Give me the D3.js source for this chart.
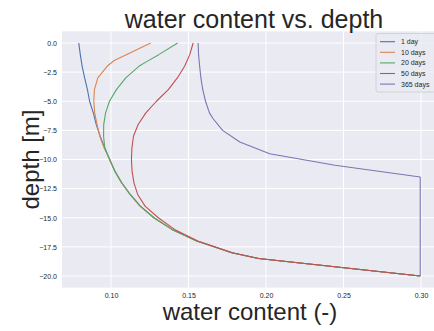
<!DOCTYPE html>
<html>
<head>
<meta charset="utf-8">
<script src="https://cdn.jsdelivr.net/npm/d3@7/dist/d3.min.js"></script>
<style>
  html, body { margin: 0; padding: 0; background: #fff; }
  svg { display: block; font-family: "Liberation Sans", Arial, sans-serif; }
</style>
</head>
<body>
<svg id="chart" width="434" height="331"></svg>
<script>
// Soil water content profiles at several times after the start
const seriesNames = ["1 day", "10 days", "20 days", "50 days", "365 days"];
const seriesColors = ["#4C72B0", "#DD8452", "#55A868", "#C44E52", "#8172B3"];

const depth1 = [0, -1, -2, -3, -4, -5, -6, -7, -8, -9, -10, -11, -12, -13, -14, -15, -16, -17, -18, -18.5, -20];
const theta1 = [0.0792, 0.0802, 0.0814, 0.0830, 0.0848, 0.0862, 0.0886, 0.0905, 0.0930, 0.0960, 0.0992, 0.1025, 0.1068, 0.1123, 0.1188, 0.1276, 0.1393, 0.1553, 0.1778, 0.1950, 0.2995];

const depth10 = [0, -1.5, -2, -3, -4, -5, -6, -7, -8, -9, -10, -11, -12, -13, -14, -15, -16, -17, -18, -18.5, -20];
const theta10 = [0.1256, 0.1021, 0.0975, 0.0915, 0.0893, 0.0889, 0.0895, 0.0910, 0.0928, 0.0955, 0.0992, 0.1025, 0.1068, 0.1123, 0.1188, 0.1276, 0.1393, 0.1553, 0.1778, 0.1950, 0.2995];

const depth20 = [0, -1, -1.6, -2, -3, -4, -5, -6, -7, -8, -9, -10, -11, -12, -13, -14, -15, -16, -17, -18, -18.5, -20];
const theta20 = [0.1430, 0.1308, 0.1230, 0.1180, 0.1095, 0.1035, 0.0990, 0.0965, 0.0953, 0.0952, 0.0960, 0.0990, 0.1025, 0.1070, 0.1125, 0.1190, 0.1278, 0.1395, 0.1555, 0.1780, 0.1952, 0.2995];

const depth50 = [0, -1, -2, -3, -4, -5, -6, -7, -8, -9, -10, -11, -12, -13, -14, -15, -16, -17, -18, -18.5, -20];
const theta50 = [0.1530, 0.1508, 0.1475, 0.1428, 0.1370, 0.1293, 0.1225, 0.1175, 0.1145, 0.1135, 0.1132, 0.1136, 0.1148, 0.1172, 0.1220, 0.1305, 0.1410, 0.1560, 0.1785, 0.1955, 0.2995];

const depth365 = [0, -1, -2, -3, -4, -5, -6, -6.5, -7.5, -8.5, -9.5, -10.5, -11.5, -20];
const theta365 = [0.1562, 0.1565, 0.1572, 0.1580, 0.1592, 0.1610, 0.1635, 0.1659, 0.1720, 0.1831, 0.2024, 0.2445, 0.2995, 0.2995];

const xTicks = [0.10, 0.15, 0.20, 0.25, 0.30];
const yTicks = [0, -2.5, -5, -7.5, -10, -12.5, -15, -17.5, -20];

const seriesDepths = [depth1, depth10, depth20, depth50, depth365];
const seriesTheta = [theta1, theta10, theta20, theta50, theta365];

const svg = d3.select("#chart");
const plot = { left: 62, right: 438, top: 31.35, bottom: 287.65 };

const x = d3.scaleLinear().domain([0.06839, 0.31097]).range([plot.left, plot.right]);
const y = d3.scaleLinear().domain([1, -21]).range([plot.top, plot.bottom]);

// panel background
svg.append("rect")
  .attr("x", plot.left).attr("y", plot.top)
  .attr("width", plot.right - plot.left).attr("height", plot.bottom - plot.top)
  .attr("fill", "#EAEAF2");

// grid lines
const grid = svg.append("g").attr("stroke", "#fff").attr("stroke-width", 1);
grid.selectAll("line.gx").data(xTicks).join("line")
  .attr("x1", d => x(d)).attr("x2", d => x(d))
  .attr("y1", plot.top).attr("y2", plot.bottom);
grid.selectAll("line.gy").data(yTicks).join("line")
  .attr("x1", plot.left).attr("x2", plot.right)
  .attr("y1", d => y(d)).attr("y2", d => y(d));

// axes (labels only, no spines or tick marks)
const fmt2 = d3.format(".2f");
const fmt1 = d => d3.format(".1f")(d).replace("-", "\u2212");
const xAxis = svg.append("g")
  .attr("transform", `translate(0,${plot.bottom})`)
  .call(d3.axisBottom(x).tickValues(xTicks).tickFormat(fmt2).tickSize(0).tickPadding(5));
const yAxis = svg.append("g")
  .attr("transform", `translate(${plot.left},0)`)
  .call(d3.axisLeft(y).tickValues(yTicks).tickFormat(fmt1).tickSize(0).tickPadding(5));
[xAxis, yAxis].forEach(a => {
  a.select(".domain").remove();
  a.selectAll("text")
    .attr("fill", "#262626")
    .style("font-family", "'Liberation Sans', Arial, sans-serif")
    .style("font-size", "7px");
});

// profile lines
const line = d3.line().x(d => x(d[1])).y(d => y(d[0]));
const defs = svg.append("defs");
defs.append("clipPath").attr("id", "panel").append("rect")
  .attr("x", plot.left).attr("y", plot.top)
  .attr("width", plot.right - plot.left).attr("height", plot.bottom - plot.top);
const lines = svg.append("g").attr("clip-path", "url(#panel)");
seriesNames.forEach((name, i) => {
  const pts = d3.zip(seriesDepths[i], seriesTheta[i]);
  lines.append("path")
    .datum(pts)
    .attr("d", line)
    .attr("fill", "none")
    .attr("stroke", seriesColors[i])
    .attr("stroke-width", 1.1)
    .attr("stroke-linejoin", "round");
});

// legend
const lg = svg.append("g");
lg.append("rect")
  .attr("x", 376).attr("y", 33.5).attr("width", 62).attr("height", 58.5)
  .attr("rx", 2)
  .attr("fill", "#EAEAF2").attr("fill-opacity", 0.8)
  .attr("stroke", "#CCCCCC").attr("stroke-width", 0.8);
seriesNames.forEach((name, i) => {
  const yy = 41.7 + i * 10.6;
  lg.append("line")
    .attr("x1", 380).attr("x2", 395).attr("y1", yy).attr("y2", yy)
    .attr("stroke", seriesColors[i]).attr("stroke-width", 1.1);
  lg.append("text")
    .attr("x", 401).attr("y", yy).attr("dy", "0.35em")
    .attr("fill", "#262626").style("font-size", "7px")
    .text(name);
});

// titles
svg.append("text")
  .attr("x", 254).attr("y", 28)
  .attr("text-anchor", "middle").attr("fill", "#262626")
  .style("font-size", "25px")
  .text("water content vs. depth");
svg.append("text")
  .attr("x", 250).attr("y", 320)
  .attr("text-anchor", "middle").attr("fill", "#262626")
  .style("font-size", "24px")
  .text("water content (-)");
svg.append("text")
  .attr("transform", `translate(39,${(plot.top + plot.bottom) / 2}) rotate(-90)`)
  .attr("text-anchor", "middle").attr("fill", "#262626")
  .style("font-size", "24px")
  .text("depth [m]");
</script>
</body>
</html>
